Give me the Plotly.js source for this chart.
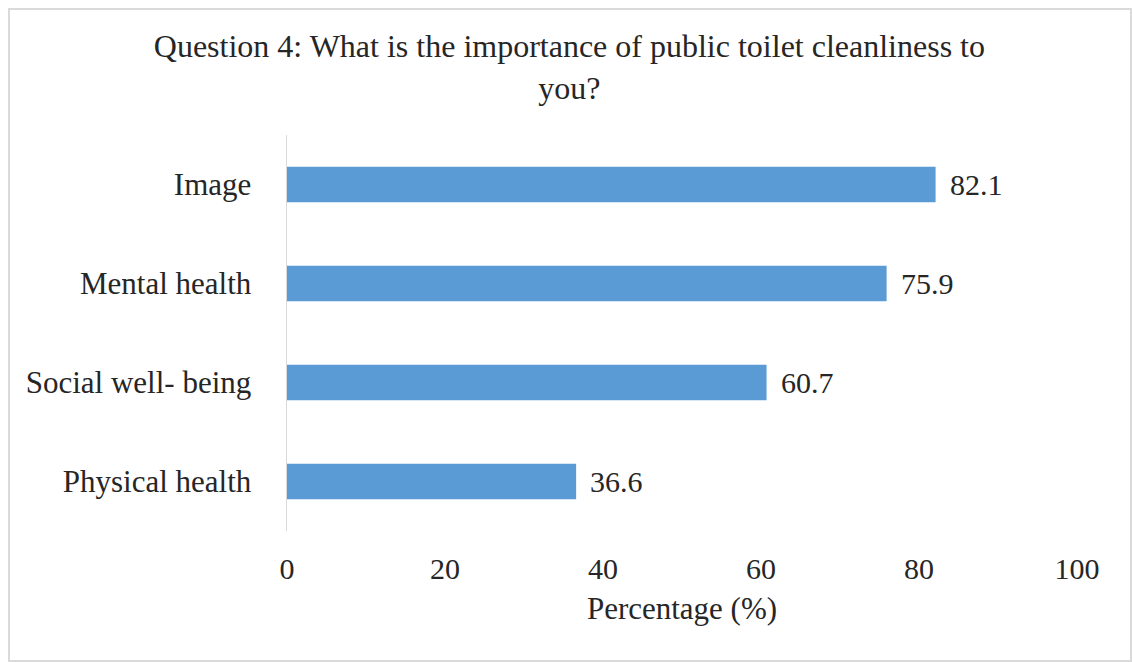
<!DOCTYPE html>
<html>
<head>
<meta charset="utf-8">
<script src="https://cdn.plot.ly/plotly-3.0.1.min.js"></script>
<style>
  html, body { margin: 0; padding: 0; background: #fff; overflow: hidden; }
  #chart { position: absolute; left: 0; top: 0; width: 1132px; height: 662px; }
  #frame { position: absolute; left: 8px; top: 8px; width: 1124px; height: 654px;
           border: 2px solid #dadada; box-sizing: border-box; pointer-events: none; }
</style>
</head>
<body>
<div id="chart"></div>
<div id="frame"></div>
<script>
const categories = ["Image", "Mental health", "Social well- being", "Physical health"];
const percentages = [82.1, 75.9, 60.7, 36.6];
const xTicks = [0, 20, 40, 60, 80, 100];
const chartTitle = "Question 4: What is the importance of public toilet cleanliness to<br>you?";
const xTitle = "Percentage (%)";

const serif = "Liberation Serif, Times New Roman, serif";
const ink = "#262626";

const trace = {
  type: "bar",
  orientation: "h",
  y: categories,
  x: percentages,
  marker: { color: "#5b9bd5" },
  width: 0.36,
  hoverinfo: "none"
};

const valueLabels = categories.map((c, i) => ({
  x: percentages[i],
  y: c,
  xref: "x",
  yref: "y",
  text: percentages[i].toFixed(1),
  showarrow: false,
  xanchor: "left",
  yanchor: "middle",
  xshift: 12,
  font: { family: serif, size: 30, color: ink }
}));

const layout = {
  width: 1132,
  height: 662,
  paper_bgcolor: "#ffffff",
  plot_bgcolor: "#ffffff",
  margin: { l: 287, r: 55, t: 135, b: 131 },
  showlegend: false,
  title: {
    text: chartTitle,
    font: { family: serif, size: 32, color: ink },
    x: 0.503, xref: "container", xanchor: "center",
    y: 0.914, yref: "container", yanchor: "middle"
  },
  annotations: valueLabels,
  xaxis: {
    range: [0, 100],
    tickvals: xTicks,
    ticktext: xTicks.map(String),
    showgrid: false,
    zeroline: false,
    showline: false,
    ticks: "",
    ticklabelstandoff: 17,
    tickfont: { family: serif, size: 30, color: ink },
    title: { text: xTitle, font: { family: serif, size: 31, color: ink }, standoff: 13 },
    fixedrange: true
  },
  yaxis: {
    categoryorder: "array",
    categoryarray: categories.slice().reverse(),
    autorange: true,
    showgrid: false,
    zeroline: false,
    showline: true,
    linecolor: "#d9d9d9",
    linewidth: 1.5,
    ticks: "",
    ticklabelstandoff: 28,
    tickfont: { family: serif, size: 31, color: ink },
    fixedrange: true
  },
  bargap: 0.64
};

Plotly.newPlot("chart", [trace], layout, { displayModeBar: false, staticPlot: true });
</script>
</body>
</html>
